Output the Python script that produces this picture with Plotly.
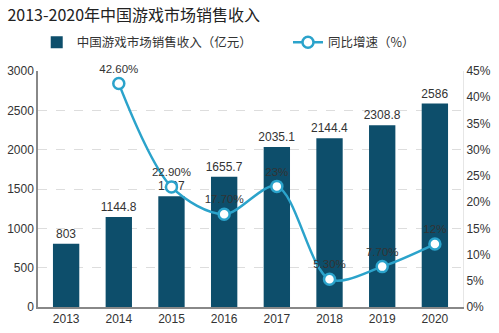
import plotly.graph_objects as go

years = ["2013", "2014", "2015", "2016", "2017", "2018", "2019", "2020"]
revenue = [803, 1144.8, 1407, 1655.7, 2035.1, 2144.4, 2308.8, 2586]
revenue_labels = ["803", "1144.8", "1407", "1655.7", "2035.1", "2144.4", "2308.8", "2586"]
growth = [None, 42.6, 22.9, 17.7, 23, 5.3, 7.7, 12]
growth_labels = ["", "42.60%", "22.90%", "17.70%", "23%", "5.30%", "7.70%", "12%"]
left_ticks = [0, 500, 1000, 1500, 2000, 2500, 3000]
right_ticks = [0, 5, 10, 15, 20, 25, 30, 35, 40, 45]
right_tick_labels = ["0%", "5%", "10%", "15%", "20%", "25%", "30%", "35%", "40%", "45%"]

FONT = "Liberation Sans, Arial, Noto Sans CJK SC, sans-serif"
BAR = "#0d4e6b"
LINE = "#2ba3cb"

fig = go.Figure()
fig.add_trace(go.Bar(
    x=years, y=revenue, name="中国游戏市场销售收入（亿元）　　　",
    marker=dict(color=BAR, line=dict(width=0)),
    text=revenue_labels, textposition="outside", constraintext="none",
    textfont=dict(size=12, color="#333333"), cliponaxis=False,
))
fig.add_trace(go.Scatter(
    x=years, y=growth, name="同比增速（%）", yaxis="y2",
    mode="lines+markers+text",
    line=dict(color=LINE, width=2.5, shape="spline", smoothing=0.9),
    marker=dict(symbol="circle", size=11, color="white", line=dict(color=LINE, width=2.5)),
    text=growth_labels, textposition="top center",
    textfont=dict(size=11.5, color="#333333"), cliponaxis=False,
    connectgaps=False,
))

fig.update_layout(
    width=499, height=333,
    margin=dict(l=38, r=36, t=71, b=26, autoexpand=False),
    paper_bgcolor="white", plot_bgcolor="white",
    font=dict(family=FONT, size=11, color="#333333"),
    title=dict(text="2013-2020年中国游戏市场销售收入", x=0.015, xanchor="left",
               y=0.955, yanchor="middle",
               font=dict(size=16, color="#222222", family="Noto Sans CJK SC, Liberation Sans, sans-serif")),
    legend=dict(orientation="h", x=-0.003, xanchor="left", y=1.12, yanchor="middle",
                font=dict(size=12.5, color="#333333", family="Noto Sans CJK SC, sans-serif"),
                itemwidth=30, bgcolor="rgba(0,0,0,0)"),
    bargap=0.5,
    showlegend=True,
    xaxis=dict(showgrid=False, showline=True, linecolor="#888888", linewidth=1.5,
               ticks="", tickfont=dict(size=12, color="#333333"), mirror=False),
    yaxis=dict(range=[0, 3000], tickvals=left_ticks, showgrid=True, gridcolor="#dddddd",
               griddash="dash", showline=True, linecolor="#888888", linewidth=1.5,
               zeroline=False, ticks="", tickfont=dict(size=12, color="#333333")),
    yaxis2=dict(range=[0, 45], tickvals=right_ticks, ticktext=right_tick_labels, overlaying="y",
                side="right", showgrid=False, showline=True, linecolor="#e6e6e6",
                linewidth=1, zeroline=False, ticks="", tickfont=dict(size=12, color="#333333")),
)

fig.write_html("out.html")
